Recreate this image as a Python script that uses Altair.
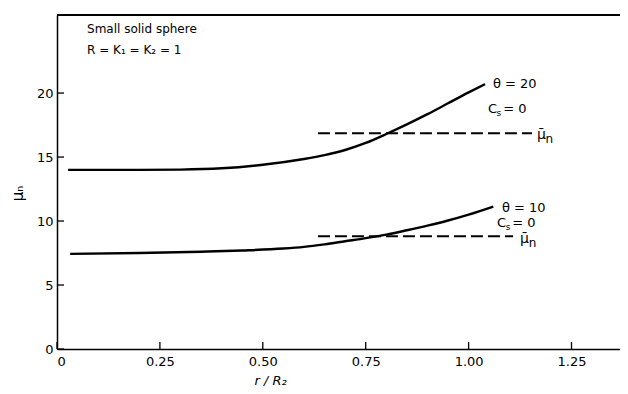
import altair as alt
import pandas as pd

# Curve theta = 20, Cs = 0
r20 = [0.027, 0.10, 0.20, 0.30, 0.40, 0.50, 0.60, 0.65, 0.70, 0.75, 0.80, 0.85, 0.90, 0.95, 1.00, 1.04]
mu20 = [14.0, 14.0, 14.0, 14.02, 14.12, 14.4, 14.85, 15.15, 15.55, 16.1, 16.8, 17.55, 18.35, 19.2, 20.05, 20.7]
# Curve theta = 10, Cs = 0
r10 = [0.032, 0.20, 0.35, 0.45, 0.55, 0.60, 0.65, 0.70, 0.75, 0.80, 0.85, 0.90, 0.95, 1.00, 1.06]
mu10 = [7.43, 7.5, 7.6, 7.7, 7.85, 7.98, 8.18, 8.42, 8.66, 8.94, 9.28, 9.64, 10.04, 10.5, 11.13]
# Mean lines (mu-bar n)
mean_series = ["theta20", "theta10"]
mean_x0 = [0.634, 0.634]
mean_x1 = [1.154, 1.108]
mean_val = [16.85, 8.82]

x_ticks = [0, 0.25, 0.5, 0.75, 1.0, 1.25]
y_ticks = [0, 5, 10, 15, 20]

label_text = ["θ = 20", "C", "s", "= 0", "θ = 10", "C", "s", "= 0", "μ̄", "n", "μ̄", "n",
              "Small solid sphere", "R = K₁ = K₂ = 1"]
label_x = [1.059, 1.047, 1.068, 1.084, 1.081, 1.069, 1.090, 1.106, 1.166, 1.187, 1.125, 1.146, 0.073, 0.073]
label_y = [20.73, 18.77, 18.45, 18.77, 11.03, 9.86, 9.54, 9.86, 16.75, 16.4, 8.6, 8.25, 25.0, 23.4]
label_size = [13, 13, 9, 13, 13, 13, 9, 13, 14, 12, 14, 12, 12, 12]

FONT = "DejaVu Sans"
W, H = 563, 334
xs = alt.Scale(domain=[0, 1.3678], nice=False, zero=False)
ys = alt.Scale(domain=[0, 26.1], nice=False, zero=False)

curves = pd.DataFrame({
    "r": r20 + r10,
    "mu": mu20 + mu10,
    "series": ["theta20"] * len(r20) + ["theta10"] * len(r10),
    "order": list(range(len(r20))) + list(range(len(r10))),
})
means = pd.DataFrame({"series": mean_series, "x0": mean_x0, "x1": mean_x1, "v": mean_val})
labels = pd.DataFrame({"t": label_text, "x": label_x, "y": label_y, "s": label_size})
xt = pd.DataFrame({"v": x_ticks})
yt = pd.DataFrame({"v": y_ticks})

xaxis = alt.Axis(values=x_ticks, tickSize=0, grid=False, domainColor="black", domainWidth=1.5,
                 labelExpr="datum.value == 0 ? '0' : format(datum.value, '.2f')",
                 labelFont=FONT, labelFontSize=13, labelColor="black", labelPadding=6,
                 title="r / R₂", titleFont=FONT, titleFontSize=13, titleFontWeight="normal",
                 titleFontStyle="italic", titleColor="black",
                 titleX=213, titleY=31, titleAlign="center", titleBaseline="middle")
yaxis = alt.Axis(values=y_ticks, tickSize=0, grid=False, domainColor="black", domainWidth=1.5,
                 labelFont=FONT, labelFontSize=13, labelColor="black", labelPadding=4,
                 title="μₙ", titleFont=FONT, titleFontSize=15, titleFontWeight="normal",
                 titleColor="black", titleX=-40, titleY=178, titleAlign="center",
                 titleBaseline="middle", titleAngle=270)

lines = alt.Chart(curves).mark_line(color="black", strokeWidth=2.4, interpolate="monotone").encode(
    x=alt.X("r:Q", scale=xs, axis=xaxis),
    y=alt.Y("mu:Q", scale=ys, axis=yaxis),
    detail="series:N",
    order="order:Q",
)

dashes = alt.Chart(means).mark_rule(color="black", strokeWidth=2, strokeDash=[12, 5]).encode(
    x=alt.X("x0:Q", scale=xs), x2="x1:Q", y=alt.Y("v:Q", scale=ys)
)

xticks = alt.Chart(xt).mark_rule(color="black", strokeWidth=1.3).encode(
    x=alt.X("v:Q", scale=xs), y=alt.value(H), y2=alt.value(H - 7)
)
yticks = alt.Chart(yt).mark_rule(color="black", strokeWidth=1.3).encode(
    y=alt.Y("v:Q", scale=ys), x=alt.value(0), x2=alt.value(7)
)
topline = alt.Chart(xt).mark_rule(color="black", strokeWidth=1.5).encode(
    x=alt.value(0), x2=alt.value(W), y=alt.value(0)
)

texts = alt.Chart(labels).mark_text(font=FONT, align="left", baseline="middle", color="black").encode(
    x=alt.X("x:Q", scale=xs), y=alt.Y("y:Q", scale=ys), text="t:N",
    size=alt.Size("s:Q", scale=None, legend=None),
)

chart = alt.layer(lines, dashes, xticks, yticks, topline, texts).properties(
    width=W, height=H,
    autosize=alt.AutoSizeParams(type="none"),
    padding={"left": 49, "top": 7, "right": 0, "bottom": 37},
).configure_view(stroke=None).configure(background="white")

chart.save("out.html", embed_options={"renderer": "svg", "actions": False})
